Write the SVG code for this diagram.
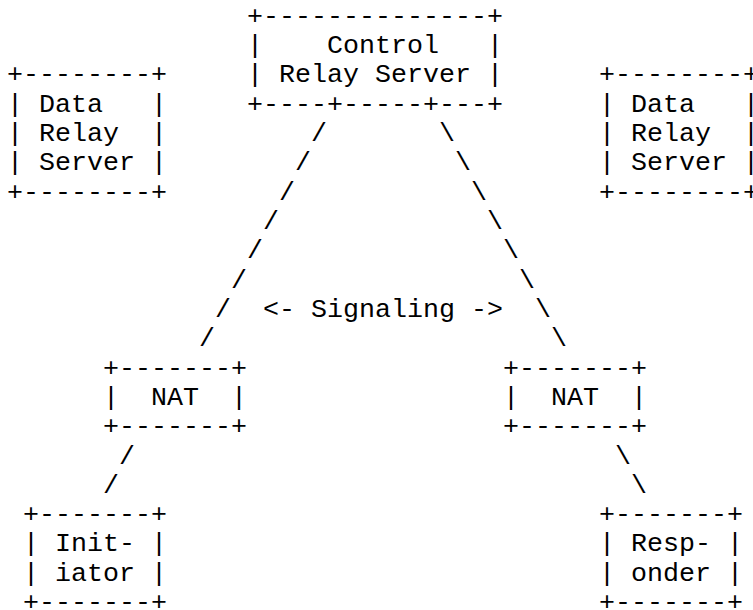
<svg xmlns="http://www.w3.org/2000/svg" width="753" height="610" viewBox="0 0 753 610" xml:space="preserve">
<style>
text { font-family: "Liberation Mono", "Courier New", monospace; font-size: 26.667px; fill: #000; white-space: pre; }
</style>
<rect width="753" height="610" fill="#fff"/>
<g id="control-relay-server">
<text x="247" y="23.5">+--------------+</text>
<text x="247" y="52.8">|    Control   |</text>
<text x="247" y="82.2">| Relay Server |</text>
<text x="247" y="111.5">+----+-----+---+</text>
</g>
<g id="data-relay-server-left">
<text x="7" y="82.2">+--------+</text>
<text x="7" y="111.5">| Data   |</text>
<text x="7" y="140.8">| Relay  |</text>
<text x="7" y="170.2">| Server |</text>
<text x="7" y="199.5">+--------+</text>
</g>
<g id="data-relay-server-right">
<text x="599" y="82.2">+--------+</text>
<text x="599" y="111.5">| Data   |</text>
<text x="599" y="140.8">| Relay  |</text>
<text x="599" y="170.2">| Server |</text>
<text x="599" y="199.5">+--------+</text>
</g>
<g id="nat-left">
<text x="103" y="375.5">+-------+</text>
<text x="103" y="404.8">|  NAT  |</text>
<text x="103" y="434.1">+-------+</text>
</g>
<g id="nat-right">
<text x="503" y="375.5">+-------+</text>
<text x="503" y="404.8">|  NAT  |</text>
<text x="503" y="434.1">+-------+</text>
</g>
<g id="initiator">
<text x="23" y="522.1">+-------+</text>
<text x="23" y="551.4">| Init- |</text>
<text x="23" y="580.8">| iator |</text>
<text x="23" y="610.1">+-------+</text>
</g>
<g id="responder">
<text x="599" y="522.1">+-------+</text>
<text x="599" y="551.4">| Resp- |</text>
<text x="599" y="580.8">| onder |</text>
<text x="599" y="610.1">+-------+</text>
</g>
<g id="connectors">
<text x="311" y="140.8">/</text>
<text x="295" y="170.2">/</text>
<text x="279" y="199.5">/</text>
<text x="263" y="228.8">/</text>
<text x="247" y="258.1">/</text>
<text x="231" y="287.5">/</text>
<text x="215" y="316.8">/</text>
<text x="199" y="346.1">/</text>
<text x="439" y="140.8">\</text>
<text x="455" y="170.2">\</text>
<text x="471" y="199.5">\</text>
<text x="487" y="228.8">\</text>
<text x="503" y="258.1">\</text>
<text x="519" y="287.5">\</text>
<text x="535" y="316.8">\</text>
<text x="551" y="346.1">\</text>
<text x="119" y="463.5">/</text>
<text x="103" y="492.8">/</text>
<text x="615" y="463.5">\</text>
<text x="631" y="492.8">\</text>
<text x="263" y="316.8">&lt;- Signaling -&gt;</text>
</g>
</svg>
